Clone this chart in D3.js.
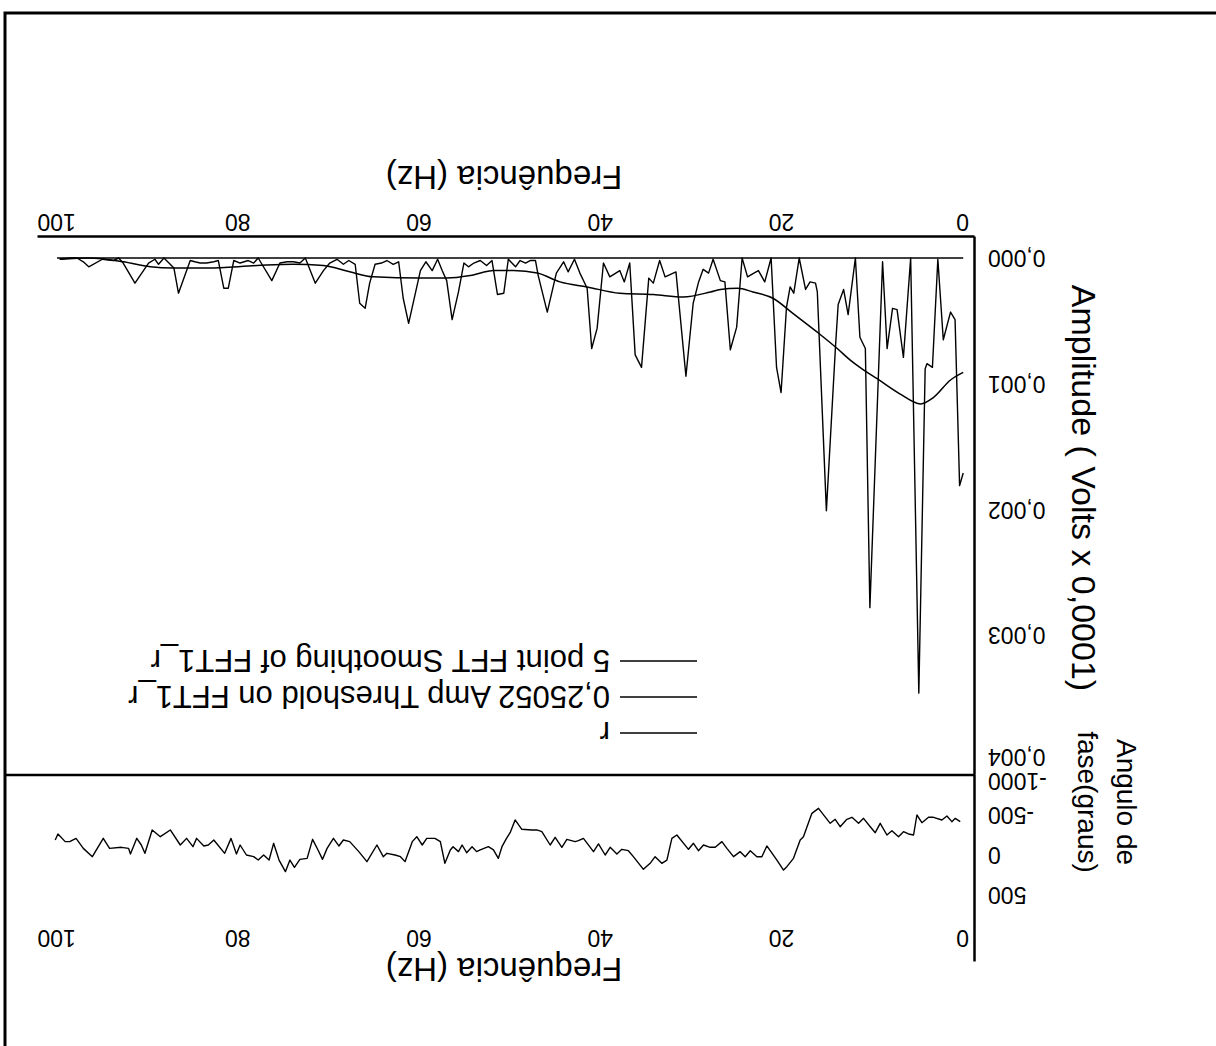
<!DOCTYPE html>
<html>
<head>
<meta charset="utf-8">
<script src="https://cdn.jsdelivr.net/npm/d3@7"></script>
<style>
  body { margin: 0; background: #fff; }
  svg { display: block; }
  .axis text { font-family: "Liberation Sans", Arial, sans-serif; font-size: 23px; fill: #000; }
  .axis .domain { stroke: #000; stroke-width: 2.5; }
  .label { font-family: "Liberation Sans", Arial, sans-serif; fill: #000; }
</style>
</head>
<body>
<svg id="chart" width="1216" height="1046"></svg>
<script>
// valores (amplitude em unidades de 0,001)
const ampSerie = [[0.0,1.71],[0.4,1.81],[0.9,0.49],[1.4,0.43],[2.2,0.65],[2.8,0.01],[3.4,0.87],[4.0,0.84],[4.2,0.88],[4.9,3.46],
  [5.8,0.00],[6.6,0.79],[7.3,0.41],[7.8,0.40],[8.4,0.72],[8.9,0.03],[10.3,2.78],[10.8,0.72],[11.4,0.63],[11.9,0.00],
  [12.7,0.45],[13.2,0.25],[13.8,0.37],[14.1,0.71],[15.1,2.01],[16.1,0.27],[16.3,0.20],[16.9,0.19],[17.4,0.25],[18.1,0.00],
  [18.7,0.28],[19.1,0.23],[19.5,0.39],[20.1,1.07],[20.6,0.87],[21.2,0.00],[21.9,0.19],[22.6,0.10],[23.1,0.12],[23.8,0.15],
  [24.4,0.00],[25.0,0.55],[25.7,0.73],[26.3,0.19],[26.8,0.18],[27.6,0.01],[28.1,0.12],[28.7,0.09],[29.2,0.19],[29.8,0.36],
  [30.6,0.94],[31.7,0.11],[32.9,0.15],[33.5,0.02],[34.2,0.20],[34.7,0.16],[35.5,0.87],[36.2,0.77],[36.8,0.04],[37.4,0.19],
  [37.9,0.10],[39.0,0.15],[39.7,0.04],[40.4,0.56],[41.0,0.72],[41.5,0.24],[42.3,0.12],[42.9,0.01],[43.6,0.11],[44.1,0.03],
  [44.9,0.12],[45.9,0.43],[46.9,0.14],[47.2,0.02],[47.8,0.02],[48.3,0.04],[48.9,0.02],[49.4,0.07],[50.2,0.01],[50.7,0.28],
  [51.4,0.29],[52.0,0.02],[52.6,0.06],[53.3,0.02],[54.0,0.04],[54.6,0.07],[55.1,0.04],[55.7,0.27],[56.4,0.49],[57.0,0.18],
  [57.5,0.10],[58.0,0.01],[58.6,0.10],[59.3,0.03],[59.9,0.10],[61.2,0.52],[61.8,0.32],[62.3,0.03],[62.9,0.05],[63.6,0.02],
  [64.2,0.04],[64.9,0.05],[65.5,0.20],[66.0,0.40],[66.6,0.36],[67.1,0.05],[67.8,0.02],[68.4,0.05],[69.1,0.01],[69.9,0.04],
  [70.6,0.10],[71.5,0.20],[72.6,0.00],[73.2,0.04],[73.9,0.03],[74.6,0.03],[75.4,0.04],[76.3,0.18],[77.8,0.00],[78.3,0.04],
  [78.9,0.02],[79.8,0.04],[80.5,0.02],[81.1,0.24],[81.6,0.24],[82.2,0.02],[82.7,0.03],[83.5,0.04],[84.2,0.04],[84.8,0.03],
  [85.3,0.02],[86.6,0.28],[87.1,0.08],[88.2,0.00],[88.8,0.05],[89.2,0.01],[89.9,0.04],[91.4,0.20],[92.7,0.04],[93.2,0.00],
  [93.8,0.02],[95.0,0.01],[96.5,0.07],[97.1,0.03],[97.8,0.00],[98.6,0.00],[99.7,0.01]];

const suaveSerie = [[0,0.91],[1.4,0.97],[3.3,1.11],[4.7,1.16],[7.0,1.08],[9.5,0.96],[11.4,0.87],[12.5,0.81],[13.9,0.72],
  [16.1,0.59],[18.8,0.44],[21.0,0.32],[23.2,0.27],[24.9,0.24],[26.8,0.25],[27.9,0.27],[30.9,0.31],[34.2,0.29],[37.9,0.28],
  [41.5,0.23],[44.5,0.19],[47.0,0.12],[49.6,0.10],[51.8,0.10],[54.4,0.14],[57.0,0.16],[60.0,0.16],[65.1,0.15],[67.7,0.11],
  [70.6,0.06],[74.0,0.05],[77.9,0.06],[83.4,0.08],[87.2,0.08],[89.7,0.07],[92.7,0.03],[96.4,0.00],[99.7,0.01]];

const limiarSerie = [[0,0],[100,0]];

const faseSerie = [[0.33,-417],[0.88,-458],[1.25,-417],[1.8,-488],[2.35,-438],[3.28,-471],[3.83,-471],[4.56,-404],[5.11,-500],
  [5.48,-250],[6.04,-263],[6.59,-292],[7.14,-229],[7.87,-304],[8.42,-250],[9.16,-396],[9.71,-279],[10.26,-354],[11.0,-458],
  [11.55,-396],[12.28,-471],[12.84,-446],[13.58,-354],[14.13,-446],[14.68,-396],[15.97,-583],[16.7,-521],[17.63,-229],
  [17.99,-188],[18.73,42],[19.46,146],[19.83,188],[20.56,63],[21.67,-113],[22.22,21],[22.77,21],[23.5,-54],[24.06,21],
  [24.61,-42],[25.35,21],[26.08,-83],[26.63,-167],[27.37,-96],[27.92,-96],[28.66,-125],[29.22,-54],[29.77,-146],[30.32,-71],
  [31.6,-250],[32.15,-208],[32.7,63],[33.26,104],[34.0,21],[34.55,104],[35.29,179],[36.4,21],[36.95,-54],[37.67,-71],
  [38.22,-13],[38.96,-96],[39.51,0],[40.25,-138],[40.8,-42],[41.91,-208],[42.46,-179],[42.83,-167],[43.74,-196],[44.29,-96],
  [45.03,-221],[45.58,-125],[46.5,-292],[47.05,-313],[47.6,-313],[48.71,-321],[49.45,-438],[50.0,-279],[50.4,-208],
  [50.9,-104],[51.3,42],[51.84,-63],[52.4,-104],[53.3,-63],[53.7,-42],[54.2,-104],[54.8,-29],[55.3,-125],[55.7,-42],
  [56.3,-104],[56.6,-63],[57.2,104],[57.7,-167],[58.3,-208],[59.2,-208],[59.7,-125],[60.3,-229],[60.8,-167],[61.6,83],
  [62.1,21],[62.7,0],[63.6,-21],[64.0,21],[64.7,-125],[65.8,83],[66.7,-42],[67.7,-167],[68.4,-188],[68.9,-113],[69.5,-208],
  [70.2,-83],[70.7,54],[71.2,-63],[71.8,-196],[72.4,42],[73.2,54],[73.8,154],[74.3,63],[74.8,208],[75.5,63],[76.1,-146],
  [76.6,63],[77.2,0],[77.8,63],[78.3,21],[79.1,0],[79.8,-125],[80.2,-13],[80.8,-208],[81.5,-21],[82.7,-188],[83.3,-125],
  [83.8,-113],[84.6,-208],[85.0,-104],[85.7,-208],[86.4,-125],[87.5,-313],[88.6,-229],[89.5,-313],[90.3,-21],[90.7,-125],
  [91.2,-208],[91.9,-13],[92.1,-83],[92.9,-96],[94.2,-83],[94.9,-208],[96.1,21],[97.1,-83],[97.9,-208],[98.6,-167],
  [99.1,-167],[99.9,-263],[100.2,-188]];

const freqTicks = [0, 20, 40, 60, 80, 100];
const ampTicks = [0, 1, 2, 3, 4];
const faseTicks = [-1000, -500, 0, 500];
const legendLabels = ["r", "0,25052 Amp Threshold on FFT1_r", "5 point FFT Smoothing of FFT1_r"];

const loc = d3.formatLocale({decimal: ",", thousands: ".", grouping: [3], currency: ["", ""], minus: "-"});
const fmtAmp = loc.format(".3f");

const svg = d3.select("#chart");
// a figura original esta de cabeca para baixo
const g = svg.append("g").attr("transform", "rotate(180 608 523)");

const x = d3.scaleLinear().domain([-1.3, 102.1]).range([241, 1178]);
const yAmp = d3.scaleLinear().domain([-0.167, 4.111]).range([809, 271]);
const yFase = d3.scaleLinear().domain([-1000, 1337.5]).range([271, 84]);

// moldura
g.append("path").attr("d", "M0,1033H1211V0").attr("fill", "none").attr("stroke", "#000").attr("stroke-width", 3);
g.append("line").attr("x1", 241).attr("x2", 1211).attr("y1", 271).attr("y2", 271)
  .attr("stroke", "#000").attr("stroke-width", 2.5);

// eixos
g.append("g").attr("class", "axis").attr("transform", "translate(0,809)")
  .call(d3.axisBottom(x).tickValues(freqTicks).tickSize(0).tickPadding(7));
g.append("g").attr("class", "axis").attr("transform", "translate(241,0)")
  .call(d3.axisLeft(yAmp).tickValues(ampTicks).tickFormat(d => fmtAmp(d / 1000)).tickSize(0).tickPadding(13))
  .call(a => a.selectAll(".tick text").attr("dy", d => d === 4 ? "0.5em" : "0.32em"));
g.append("g").attr("class", "axis").attr("transform", "translate(241,0)")
  .call(d3.axisLeft(yFase).tickValues(faseTicks).tickFormat(d => String(d)).tickSize(0).tickPadding(13))
  .call(a => a.selectAll(".tick text").attr("dy", d => d === -1000 ? "0.05em" : "0.32em"));
g.append("g").attr("class", "axis").attr("transform", "translate(0,118)")
  .call(d3.axisTop(x).tickValues(freqTicks).tickSize(0).tickPadding(2))
  .call(a => a.select(".domain").remove());

// linhas
const lineAmp = d3.line().x(d => x(d[0])).y(d => yAmp(d[1]));
g.append("path").datum(limiarSerie).attr("d", lineAmp)
  .attr("fill", "none").attr("stroke", "#000").attr("stroke-width", 1.6);
g.append("path").datum(suaveSerie).attr("d", lineAmp.curve(d3.curveMonotoneX))
  .attr("fill", "none").attr("stroke", "#000").attr("stroke-width", 1.5);
g.append("path").datum(ampSerie).attr("d", d3.line().x(d => x(d[0])).y(d => yAmp(d[1])))
  .attr("fill", "none").attr("stroke", "#000").attr("stroke-width", 1.4).attr("stroke-linejoin", "round");
g.append("path").datum(faseSerie).attr("d", d3.line().x(d => x(d[0])).y(d => yFase(d[1])))
  .attr("fill", "none").attr("stroke", "#000").attr("stroke-width", 1.4).attr("stroke-linejoin", "round");

// titulos
g.append("text").attr("class", "label").attr("x", 712).attr("y", 868).attr("dy", "0.35em")
  .attr("text-anchor", "middle").style("font-size", "33px").text("Frequência (Hz)");
g.append("text").attr("class", "label").attr("x", 712).attr("y", 76).attr("dy", "0.35em")
  .attr("text-anchor", "middle").style("font-size", "33px").text("Frequência (Hz)");
g.append("text").attr("class", "label").attr("transform", "translate(132,558) rotate(-90)")
  .attr("dy", "0.35em").attr("text-anchor", "middle").style("font-size", "34px")
  .text("Amplitude ( Volts x 0,0001)");
g.append("text").attr("class", "label").attr("transform", "translate(89,244) rotate(-90)")
  .attr("dy", "0.35em").attr("text-anchor", "middle").style("font-size", "28px").text("Angulo de");
g.append("text").attr("class", "label").attr("transform", "translate(128,244) rotate(-90)")
  .attr("dy", "0.35em").attr("text-anchor", "middle").style("font-size", "28px").text("fase(graus)");

// legenda
const ly = d3.scalePoint().domain(legendLabels).range([313, 385]);
const leg = g.append("g").selectAll("g").data(legendLabels).join("g")
  .attr("transform", d => `translate(519,${ly(d)})`);
leg.append("line").attr("x1", 0).attr("x2", 77).attr("stroke", "#000").attr("stroke-width", 1.5);
leg.append("text").attr("class", "label").attr("x", 87).attr("dy", "0.35em")
  .style("font-size", "31px").text(d => d);
</script>
</body>
</html>
